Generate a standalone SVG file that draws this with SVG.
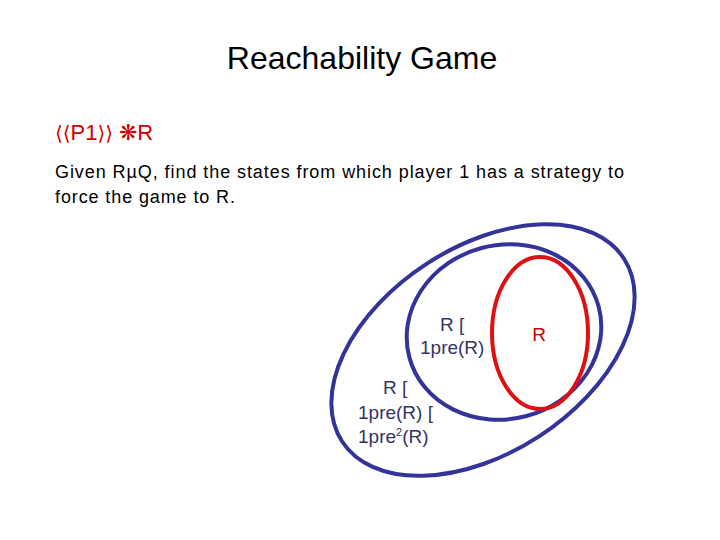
<svg xmlns="http://www.w3.org/2000/svg" width="720" height="540" viewBox="0 0 720 540">
<style>
text{font-family:"Liberation Sans",Arial,sans-serif}
.b{fill:#333366;font-size:19px}
.e{fill:none;stroke:#333399;stroke-width:4}
</style>
<rect width="720" height="540" fill="#fff"/>
<text x="362" y="69" font-size="32" text-anchor="middle" fill="#000">Reachability Game</text>
<text x="55" y="140" font-size="22" fill="#cc0000"><tspan font-family="DejaVu Sans" font-size="20">⟨⟨</tspan>P1<tspan font-family="DejaVu Sans" font-size="20">⟩⟩</tspan> ❋R</text>
<text x="55" y="178" font-size="18" fill="#000" textLength="569">Given RµQ, find the states from which  player 1 has a strategy to</text>
<text x="55" y="203" font-size="18" fill="#000" textLength="180">force the game to R.</text>
<g id="outer"><ellipse class="e" cx="483" cy="350" rx="168" ry="103" transform="rotate(-33 483 350)"/></g>
<g id="middle"><ellipse class="e" cx="504" cy="332" rx="98" ry="87" transform="rotate(-15 504 332)"/></g>
<g id="red"><ellipse cx="540" cy="333" rx="48" ry="76" fill="none" stroke="#dd1111" stroke-width="4"/></g>
<text x="539" y="341" font-size="19" fill="#cc0000" text-anchor="middle">R</text>
<text class="b" x="440" y="331">R [</text>
<text class="b" x="420" y="354">1pre(R)</text>
<text class="b" x="383" y="394">R [</text>
<text class="b" x="358" y="419">1pre(R) [</text>
<text class="b" x="358" y="443">1pre<tspan font-size="11" dy="-7">2</tspan><tspan dy="7">(R)</tspan></text>
</svg>
